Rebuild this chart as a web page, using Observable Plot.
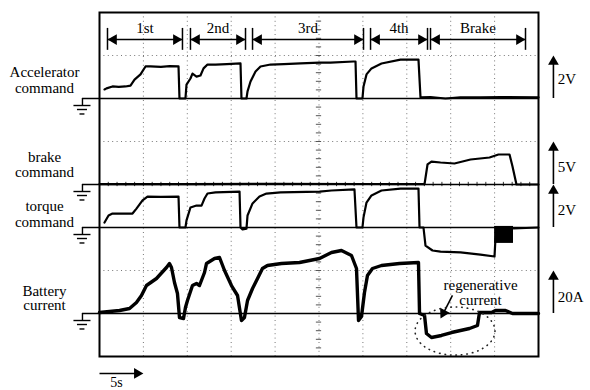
<!DOCTYPE html>
<html><head><meta charset="utf-8">
<script src="https://cdn.jsdelivr.net/npm/d3@7"></script>
<script src="https://cdn.jsdelivr.net/npm/@observablehq/plot@0.6"></script>
<style>
html,body{margin:0;padding:0;background:#fff;}
#chart svg{display:block;}
</style></head><body><div id="chart"></div>
<script>
// time in seconds (5 s/div); values in physical units of each channel
const accelerator = [[0.57,0.42],[0.8,0.47],[1.48,0.56],[2.2,0.54],[2.96,0.56],[3.53,0.6],[3.99,0.88],[4.67,1.12],[5.24,1.49],[5.81,1.49],[7.0,1.47],[8.0,1.51],[9.0,1.49],[9.11,0],[9.79,0],[9.91,0.65],[10.36,0.93],[10.59,1.16],[11.05,1.02],[11.5,1.07],[11.85,1.4],[12.3,1.58],[13.21,1.58],[14.5,1.6],[16.06,1.63],[16.17,0],[16.74,0],[16.86,0.33],[17.2,0.79],[17.77,1.26],[18.34,1.49],[19.48,1.58],[21.0,1.6],[22.89,1.63],[25.06,1.67],[26.31,1.67],[28.93,1.72],[29.16,1.72],[29.27,0],[29.95,0],[30.07,0.56],[30.41,1.12],[30.98,1.4],[32.12,1.63],[34.28,1.81],[36.33,1.81],[36.56,0.05],[37.7,0.07],[39.4,0.0],[41.1,0.05],[43.4,0.05],[45.7,0.07],[50,0.05]];
const brake = [[0,0.05],[10,0.05],[20,0.08],[30,0.06],[37.02,0.05],[37.36,2.33],[37.81,2.67],[38.84,2.56],[40.43,2.44],[42.26,2.91],[44.42,3.14],[45.44,3.49],[46.7,3.49],[47.04,2.09],[47.49,0],[50,0]];
const torque = [[0.57,0.23],[1.03,0.56],[1.48,0.65],[3.76,0.65],[4.21,0.88],[4.9,1.26],[5.47,1.44],[7.0,1.42],[9.0,1.44],[9.11,0],[9.79,0],[9.91,0.33],[10.36,0.93],[11.05,1.02],[11.62,1.02],[11.96,1.35],[12.3,1.58],[13.21,1.63],[15.95,1.67],[16.06,0],[16.29,-0.09],[16.74,-0.05],[16.86,0.56],[17.43,1.12],[18.22,1.44],[19.02,1.58],[20.62,1.63],[25.06,1.67],[26.42,1.72],[29.04,1.77],[29.27,0],[29.95,0],[30.07,0.47],[30.41,1.16],[30.98,1.49],[32.12,1.72],[34.28,1.81],[36.33,1.81],[36.45,0],[36.9,0],[37.13,-0.84],[37.93,-1.07],[38.84,-1.12],[41.12,-1.16],[43.39,-1.26],[44.99,-1.35],[45.1,-0.51]];
const torqueTail = [[47.15,-0.05],[50,0]];
const torqueBand = [[45.0,-0.74,0.05],[47.15,-0.74,0.05]];
const battery = [[0,0.47],[2.28,1.4],[3.42,2.33],[4.21,5.12],[4.78,8.37],[5.35,13.02],[6.49,16.28],[7.63,21.4],[7.97,23.26],[8.2,21.4],[8.54,14.42],[8.88,9.3],[9.11,-1.86],[9.57,-2.33],[9.79,2.79],[10.02,6.05],[10.59,13.02],[11.05,13.95],[11.39,13.02],[11.96,19.07],[12.19,23.26],[13.1,25.58],[13.67,26.05],[14.24,20.0],[15.03,13.02],[15.72,8.37],[16.17,-3.26],[16.51,-1.86],[16.86,6.05],[17.43,11.63],[18.0,16.28],[18.56,20.93],[19.13,22.33],[20.73,23.26],[22.78,23.72],[25.06,25.58],[26.42,28.37],[27.56,29.3],[28.7,26.98],[29.27,20.93],[29.5,-3.26],[29.84,-1.4],[30.18,9.77],[30.52,17.67],[31.09,20.93],[32.12,22.33],[34.17,23.26],[36.33,23.72],[36.45,0],[37.02,-0.93],[37.24,-9.3],[37.81,-11.16],[38.95,-10.23],[40.09,-8.84],[42.14,-6.98],[43.05,-5.58],[43.28,0.47],[44.65,0.47],[45.1,1.4],[46.24,1.4],[47.04,0],[50,0]];

const channelLabels = [["Accelerator","command"],["brake","command"],["torque","command"],["Battery","current"]];
const channelZeroDiv = [6,4,3,1];
const channelPerDiv = [2,5,2,20];
const scaleLabels = ["2V","5V","2V","20A"];
const phases = ["1st","2nd","3rd","4th","Brake"];
const phaseStart = [0.91,10.36,17.43,30.87,37.7];
const phaseEnd = [9.45,16.63,30.07,37.36,48.52];
const timeBaseLabel = "5s";
const timeBase = 5;
const annotationLines = ["regenerative","current"];

const toDiv = (i) => ([t, v]) => ({t, y: channelZeroDiv[i] + v / channelPerDiv[i]});
const accelData = accelerator.map(toDiv(0));
const brakeData = brake.map(toDiv(1));
const torqueData = torque.map(toDiv(2));
const torqueTailData = torqueTail.map(toDiv(2));
const torqueBandData = torqueBand.map(([t, lo, hi]) => ({t, y1: 3 + lo / 2, y2: 3 + hi / 2}));
const batteryData = battery.map(toDiv(3));

const font = "Liberation Serif, Times New Roman, serif";
const grid = {stroke: "#777", strokeWidth: 1, strokeDasharray: "1,3.4"};
const gx = -1.94; // ground symbol position (s)
const grounds = channelZeroDiv.map((z) => ({z}));
const labelRows = [];
const labelY = [[6.62,6.24],[4.63,4.28],[3.5,3.13],[1.53,1.19]];
channelLabels.forEach((ls, i) => ls.forEach((s, j) => labelRows.push({s, y: labelY[i][j]})));
const scaleRows = scaleLabels.map((s, i) => ({s, z: channelZeroDiv[i], y: [6.44,4.4,3.4,1.37][i]}));
const phaseRows = phases.map((p, i) => ({p, a: phaseStart[i], b: phaseEnd[i]}));

const plot = Plot.plot({
  width: 590, height: 390,
  marginLeft: 99, marginRight: 52, marginTop: 12, marginBottom: 34,
  x: {domain: [0, 50], axis: null},
  y: {domain: [0, 8], axis: null},
  style: {background: "white", fontFamily: font, fontSize: "15px", color: "black"},
  marks: [
    Plot.ruleX(d3.range(5, 50, 5), {...grid}),
    Plot.ruleY([1,2,3,5,6,7], {...grid}),
    Plot.ruleY(d3.range(0.2, 8, 0.2), {x1: 24.7, x2: 25.3, stroke: "#555", strokeWidth: 1}),
    Plot.ruleX(d3.range(1, 50, 1), {y1: 3.95, y2: 4.05, stroke: "#333", strokeWidth: 1}),
    // zero (ground) lines and ground symbols
    Plot.ruleY(grounds, {y: "z", x1: gx, x2: 50, stroke: "black", strokeWidth: 1.6}),
    Plot.ruleX(grounds, {x: gx, y1: "z", y2: d => d.z - 0.163, stroke: "black", strokeWidth: 1.4}),
    Plot.ruleY(grounds, {y: d => d.z - 0.163, x1: gx - 0.97, x2: gx + 0.97, stroke: "black", strokeWidth: 1.4}),
    Plot.ruleY(grounds, {y: d => d.z - 0.256, x1: gx - 0.57, x2: gx + 0.57, stroke: "black", strokeWidth: 1.4}),
    Plot.ruleY(grounds, {y: d => d.z - 0.36, x1: gx - 0.28, x2: gx + 0.28, stroke: "black", strokeWidth: 1.4}),
    // traces
    Plot.line(accelData, {x: "t", y: "y", stroke: "black", strokeWidth: 2.2}),
    Plot.line(brakeData, {x: "t", y: "y", stroke: "black", strokeWidth: 2.2}),
    Plot.line(torqueData, {x: "t", y: "y", stroke: "black", strokeWidth: 2.2}),
    Plot.areaY(torqueBandData, {x: "t", y1: "y1", y2: "y2", fill: "black"}),
    Plot.line(torqueTailData, {x: "t", y: "y", stroke: "black", strokeWidth: 2}),
    Plot.line(batteryData, {x: "t", y: "y", stroke: "black", strokeWidth: 3.4, strokeLinejoin: "round"}),
    Plot.frame({stroke: "black", strokeWidth: 2}),
    // left channel labels
    Plot.text(labelRows, {x: -6.26, y: "y", text: "s", fontSize: 15, fill: "black"}),
    // right scale arrows
    Plot.ruleX(scaleRows, {x: 51.7, y1: "z", y2: d => d.z + 0.86, stroke: "black", strokeWidth: 1.6}),
    Plot.dot(scaleRows, {x: 51.7, y: d => d.z + 0.856, symbol: "triangle", r: 4, fill: "black", stroke: null}),
    Plot.text(scaleRows, {x: 52.2, y: "y", text: "s", textAnchor: "start", fontSize: 15, fill: "black"}),
    // phase interval arrows
    Plot.ruleY(phaseRows, {y: 7.37, x1: "a", x2: "b", stroke: "black", strokeWidth: 1.5}),
    Plot.ruleX(phaseRows, {x: "a", y1: 7.12, y2: 7.63, stroke: "black", strokeWidth: 1.5}),
    Plot.ruleX(phaseRows, {x: "b", y1: 7.12, y2: 7.63, stroke: "black", strokeWidth: 1.5}),
    Plot.dot(phaseRows, {x: d => d.a + 0.71, y: 7.37, symbol: "triangle", rotate: -90, r: 4, fill: "black", stroke: null}),
    Plot.dot(phaseRows, {x: d => d.b - 0.71, y: 7.37, symbol: "triangle", rotate: 90, r: 4, fill: "black", stroke: null}),
    Plot.text(phaseRows, {x: d => (d.a + d.b) / 2, y: 7.63, text: "p", fontSize: 15, fill: "black"}),
    // regenerative current annotation
    Plot.text(annotationLines, {x: 43.4, y: [1.65, 1.3], text: d => d, fontSize: 15, fill: "black"}),
    Plot.link([0], {x1: 40.2, y1: 1.42, x2: 39.17, y2: 1.01, stroke: "black", strokeWidth: 1.6}),
    Plot.dot([0], {x: 39.17, y: 1.01, symbol: "triangle", rotate: 208, r: 4, fill: "black", stroke: null}),
    // time base arrow
    Plot.link([0], {x1: 0, y1: -0.395, x2: timeBase - 0.7, y2: -0.395, stroke: "black", strokeWidth: 1.6}),
    Plot.dot([0], {x: timeBase - 0.71, y: -0.395, symbol: "triangle", rotate: 90, r: 4, fill: "black", stroke: null}),
    Plot.text([timeBaseLabel], {x: 1.94, y: -0.6, text: d => d, fontSize: 14, fill: "black"})
  ]
});

// dotted ellipse around the regenerative current
const sx = plot.scale("x"), sy = plot.scale("y");
d3.select(plot).append("ellipse")
  .attr("cx", sx.apply(40.55)).attr("cy", sy.apply(0.58))
  .attr("rx", sx.apply(45.1) - sx.apply(40.55)).attr("ry", sy.apply(0) - sy.apply(0.56))
  .attr("fill", "none").attr("stroke", "#222").attr("stroke-width", 1.6)
  .attr("stroke-dasharray", "0.5,5").attr("stroke-linecap", "round");

document.getElementById("chart").append(plot);
</script></body></html>
